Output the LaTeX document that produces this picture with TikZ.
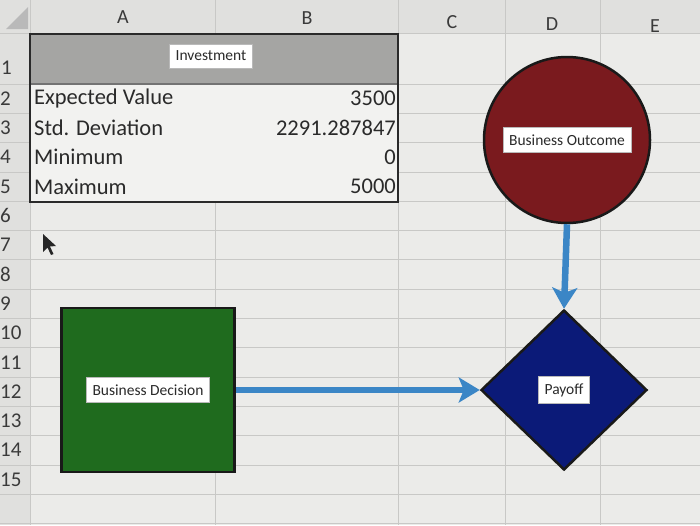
\documentclass[tikz,border=0pt]{standalone}
\usepackage{fontspec}
\setmainfont{Carlito}
\usetikzlibrary{arrows.meta,shapes.geometric}
\definecolor{bg}{HTML}{EBEBE9}
\definecolor{gridc}{HTML}{C8C8C6}
\definecolor{hdr}{HTML}{E0E0DE}
\definecolor{thead}{HTML}{A5A5A3}
\definecolor{tbody}{HTML}{F2F2F0}
\definecolor{outred}{HTML}{7A1A1E}
\definecolor{decgreen}{HTML}{1F6B1E}
\definecolor{paynavy}{HTML}{0B1A78}
\definecolor{arrowblue}{HTML}{3B86C6}
\definecolor{txt}{HTML}{2A2A2A}
\definecolor{hdrtxt}{HTML}{3A3A3A}
\begin{document}
\begin{tikzpicture}[x=1pt,y=-1pt,
  gridline/.style={gridc,line width=0.8pt},
  colhead/.style={text=hdrtxt,font=\fontsize{20}{22}\selectfont},
  rowhead/.style={text=hdrtxt,font=\fontsize{21}{23}\selectfont,inner sep=1pt},
  cell/.style={text=txt,font=\fontsize{22.5}{24}\selectfont,inner sep=1pt},
  lblbox/.style={fill=white,draw=gray!55,line width=0.6pt,text=txt,
    font=\fontsize{15.5}{17}\selectfont,inner xsep=6pt,inner ysep=7pt},
  shapebox/.style={draw=black!90,line width=2.5pt,inner sep=0pt},
  flow/.style={arrowblue,line width=6.5pt,-{Stealth[length=21pt,width=25pt,inset=5pt]}}
]
\useasboundingbox (0,0) rectangle (700,525);
\fill[bg] (0,0) rectangle (700,525);
% headers
\fill[hdr] (0,0) rectangle (700,33);
\fill[hdr] (0,0) rectangle (30,525);
\fill[gray!55] (6,29) -- (28,7) -- (28,29) -- cycle;
% grid
\foreach \x in {30,215,398,505,600} \draw[gridline] (\x,0) -- (\x,525);
\draw[gridline] (0,33) -- (700,33);
\foreach \k in {0,...,15} \draw[gridline] (0,84+29.3*\k) -- (700,84+29.3*\k);
% column letters
\node[colhead] (cA) at (123,17) {A};
\node[colhead] (cB) at (307,18) {B};
\node[colhead] (cC) at (452,22) {C};
\node[colhead] (cD) at (552,24) {D};
\node[colhead] (cE) at (655,26) {E};
% row numbers
\node[rowhead,anchor=west] (r1) at (0,68) {1};
\foreach \k in {2,...,15} \node[rowhead,anchor=west] (r\k) at (-1,98.6+29.3*\k-58.6) {\k};
% table
\fill[tbody] (30,84) rectangle (398,202);
\fill[thead] (30,34) rectangle (398,84);
\draw[black!55,line width=1.5pt] (30,84) -- (398,84);
\draw[txt,line width=1.6pt] (30,34) rectangle (398,202);
\node[lblbox] (inv) at (211,56) {Investment};
\node[cell,anchor=west] (l2) at (33,98.6) {Expected Value};
\node[cell,anchor=west] (l3) at (33,127.9) {Std. Deviation};
\node[cell,anchor=west] (l4) at (33,157.2) {Minimum};
\node[cell,anchor=west] (l5) at (33,186.5) {Maximum};
\node[cell,anchor=east] (v2) at (397,98.6) {3500};
\node[cell,anchor=east] (v3) at (397,127.9) {2291.287847};
\node[cell,anchor=east] (v4) at (397,157.2) {0};
\node[cell,anchor=east] (v5) at (397,186.5) {5000};
% cursor
\fill[black!85] (43,234) -- (43,252) -- (47.5,247.5) -- (51,255) -- (53.5,254) -- (50,246.5) -- (56,246) -- cycle;
% shapes
\node[shapebox,circle,fill=outred,minimum size=166pt] (out) at (567,140) {};
\node[lblbox] (outl) at (out.center) {Business Outcome};
\node[shapebox,diamond,fill=paynavy,minimum width=166pt,minimum height=160pt] (pay) at (564,390) {};
\node[lblbox] (payl) at (pay.center) {Payoff};
\node[shapebox,rectangle,fill=decgreen,minimum width=173pt,minimum height=164pt] (dec) at (148,390) {};
\node[lblbox] (decl) at (dec.center) {Business Decision};
% connectors
\draw[flow] (out.south) -- (pay.north);
\draw[flow] (dec.east) -- (pay.west);
\end{tikzpicture}
\end{document}
